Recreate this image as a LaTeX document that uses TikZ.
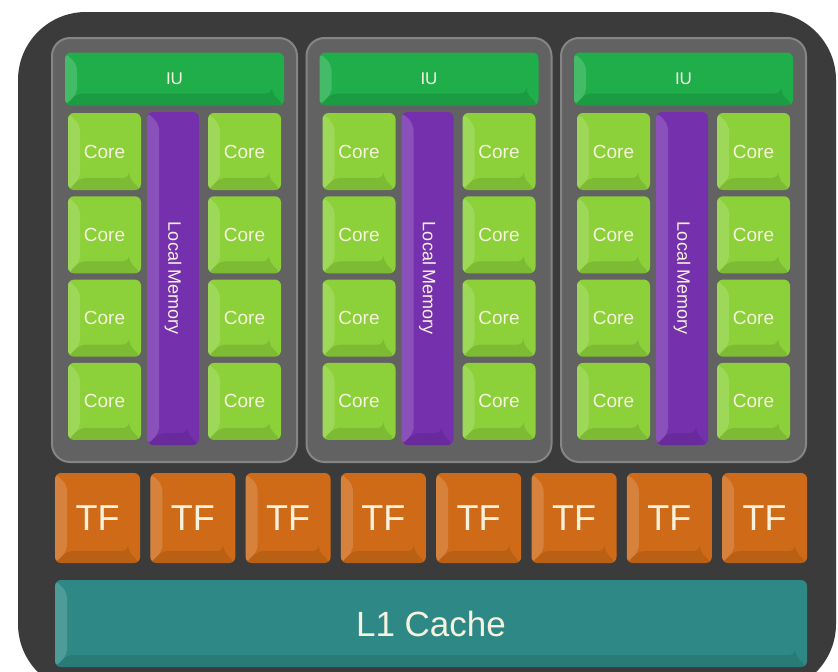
\documentclass[tikz,border=0pt]{standalone}
\usepackage{fontspec}
\setmainfont{Liberation Sans}
\definecolor{chipgray}{HTML}{3B3B3B}
\definecolor{smgray}{HTML}{626262}
\definecolor{smedge}{HTML}{858585}
\definecolor{iugreen}{HTML}{1FAE4A}
\definecolor{coregreen}{HTML}{8CD13A}
\definecolor{lmpurple}{HTML}{7530AE}
\definecolor{tforange}{HTML}{CF6B18}
\definecolor{cacheteal}{HTML}{2E8986}
\definecolor{labelcream}{HTML}{F6F2DE}
\tikzset{
  bevel/.style={rounded corners=6pt, text=labelcream,
    path picture={
      \fill[white, opacity=.16] (path picture bounding box.north west) -- ++(12pt,-12pt)
        |- ([shift={(12pt,12pt)}]path picture bounding box.south west) -- (path picture bounding box.south west) -- cycle;
      \fill[black, opacity=.1] (path picture bounding box.south west) -- ++(12pt,12pt)
        -| ([shift={(-12pt,12pt)}]path picture bounding box.south east) -- (path picture bounding box.south east) -- cycle;
    }},
  smpanel/.style={fill=smgray, draw=smedge, line width=2pt, rounded corners=18pt,
    minimum width=245pt, minimum height=424pt},
  iubox/.style={bevel, fill=iugreen, minimum width=219pt, minimum height=53pt,
    font=\fontsize{17}{19}\selectfont},
  corebox/.style={bevel, fill=coregreen, minimum width=73pt, minimum height=77pt,
    font=\fontsize{19}{21}\selectfont},
  lmbox/.style={bevel, fill=lmpurple, minimum width=52pt, minimum height=333pt},
  tfbox/.style={bevel, fill=tforange, minimum width=85pt, minimum height=90pt,
    font=\fontsize{36}{40}\selectfont},
  cachebox/.style={bevel, fill=cacheteal, minimum width=752pt, minimum height=87pt,
    font=\fontsize{35}{40}\selectfont}
}
\begin{document}
\begin{tikzpicture}[x=1pt, y=-1pt, inner sep=0pt]
  \useasboundingbox (0,0) rectangle (838,672);
  \fill[white] (0,0) rectangle (838,672);
  \fill[chipgray, rounded corners=68pt] (18,12) rectangle (836,692);
  % three streaming multiprocessors
  \foreach \p in {0,1,2} {
    \node[smpanel] (sm\p) at (174.5+254.5*\p,250) {};
    \node[iubox] (iu\p) at (174.5+254.5*\p,79) {IU};
    \node[lmbox] (lm\p) at (173+254.5*\p,278.5) {};
    \node[rotate=-90, text=labelcream, font=\fontsize{18}{20}\selectfont]
      (lmtext\p) at (lm\p) {Local Memory};
    \foreach \r in {0,...,3} {
      \node[corebox] (cl\p\r) at (104.5+254.5*\p,151.5+83.3*\r) {Core};
      \node[corebox] (cr\p\r) at (244.5+254.5*\p,151.5+83.3*\r) {Core};
    }
  }
  % texture units
  \foreach \t in {0,...,7}
    \node[tfbox] (tf\t) at (97.5+95.3*\t,518) {TF};
  \node[cachebox] (cache) at (431,623.5) {L1 Cache};
\end{tikzpicture}
\end{document}
